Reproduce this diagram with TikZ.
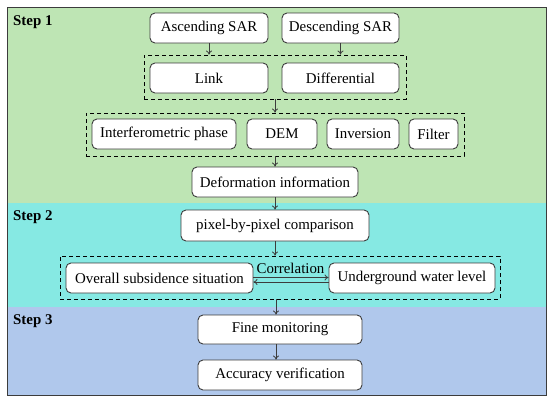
\documentclass[tikz,border=0pt]{standalone}
\usepackage{fontspec}
\setmainfont{Liberation Serif}
\usetikzlibrary{arrows.meta}
\definecolor{bggreen}{RGB}{190,229,180}
\definecolor{bgcyan}{RGB}{134,233,227}
\definecolor{bgblue}{RGB}{176,200,236}
\definecolor{edge}{RGB}{60,60,60}
\begin{document}
\begin{tikzpicture}[x=1pt,y=-1pt,
  box/.style={draw=edge,line width=0.9pt,rounded corners=5pt,fill=white,inner sep=0pt,
    font=\fontsize{14.9}{16}\selectfont},
  dashbox/.style={draw=black,line width=0.9pt,dash pattern=on 4pt off 3pt,inner sep=0pt},
  arr/.style={draw=edge,line width=0.8pt,-{To[length=4pt,width=6pt]}},
  steplabel/.style={font=\fontsize{14.9}{16}\selectfont\bfseries,anchor=base west,inner sep=0pt}]
\useasboundingbox (0,0) rectangle (550,402);
% backgrounds
\fill[bggreen] (7,7) rectangle (546,203);
\fill[bgcyan] (7,203) rectangle (546,307);
\fill[bgblue] (7,307) rectangle (546,395);
\draw[edge,line width=0.8pt] (7,7) rectangle (546,395);
% step labels
\node[steplabel] (s1) at (13,25) {Step 1};
\node[steplabel] (s2) at (13,220) {Step 2};
\node[steplabel] (s3) at (13,324) {Step 3};
% dashed groups
\node[dashbox,minimum width=262,minimum height=44] (g1) at (275,77) {};
\node[dashbox,minimum width=378,minimum height=43] (g2) at (275,134.5) {};
\node[dashbox,minimum width=440,minimum height=43] (g3) at (280,277.5) {};
% boxes
\node[box,minimum width=118,minimum height=30] (asc) at (209,28) {Ascending SAR};
\node[box,minimum width=117,minimum height=30] (desc) at (340.5,28) {Descending SAR};
\node[box,minimum width=118,minimum height=30] (link) at (209,78) {Link};
\node[box,minimum width=117,minimum height=30] (diff) at (340.5,78) {Differential};
\node[box,minimum width=144,minimum height=30] (ifp) at (164,134) {Interferometric phase};
\node[box,minimum width=70,minimum height=30] (dem) at (282,134) {DEM};
\node[box,minimum width=72,minimum height=30] (inv) at (363,134) {Inversion};
\node[box,minimum width=49,minimum height=30] (filt) at (433.5,134) {Filter};
\node[box,minimum width=166,minimum height=30] (def) at (275,182) {Deformation information};
\node[box,minimum width=188,minimum height=31] (pix) at (275,225.5) {pixel-by-pixel comparison};
\node[box,minimum width=187,minimum height=30] (ovr) at (159.5,278) {Overall subsidence situation};
\node[box,minimum width=166,minimum height=30] (und) at (412,278) {Underground water level};
\node[box,minimum width=164,minimum height=29] (fine) at (280,329.5) {Fine monitoring};
\node[box,minimum width=164,minimum height=30] (acc) at (280,375) {Accuracy verification};
\node[font=\fontsize{14.9}{16}\selectfont,inner sep=0pt,anchor=base] (corr) at (290.5,273) {Correlation};
% connectors
\draw[arr] (asc.south) -- (asc.south |- g1.north);
\draw[arr] (desc.south) -- (desc.south |- g1.north);
\draw[arr] (g1.south) -- (g2.north -| g1.south);
\draw[arr] (g2.south) -- (def.north);
\draw[arr] (def.south) -- (pix.north);
\draw[arr] (pix.south) -- (g3.north -| pix.south);
\draw[arr] (g3.south -| 276,0) -- (fine.north -| 276,0);
\draw[arr] (fine.south -| 276,0) -- (acc.north -| 276,0);
\draw[arr] (ovr.east |- 0,277.5) -- (und.west |- 0,277.5);
\draw[arr] (und.west |- 0,282) -- (ovr.east |- 0,282);
\end{tikzpicture}
\end{document}
